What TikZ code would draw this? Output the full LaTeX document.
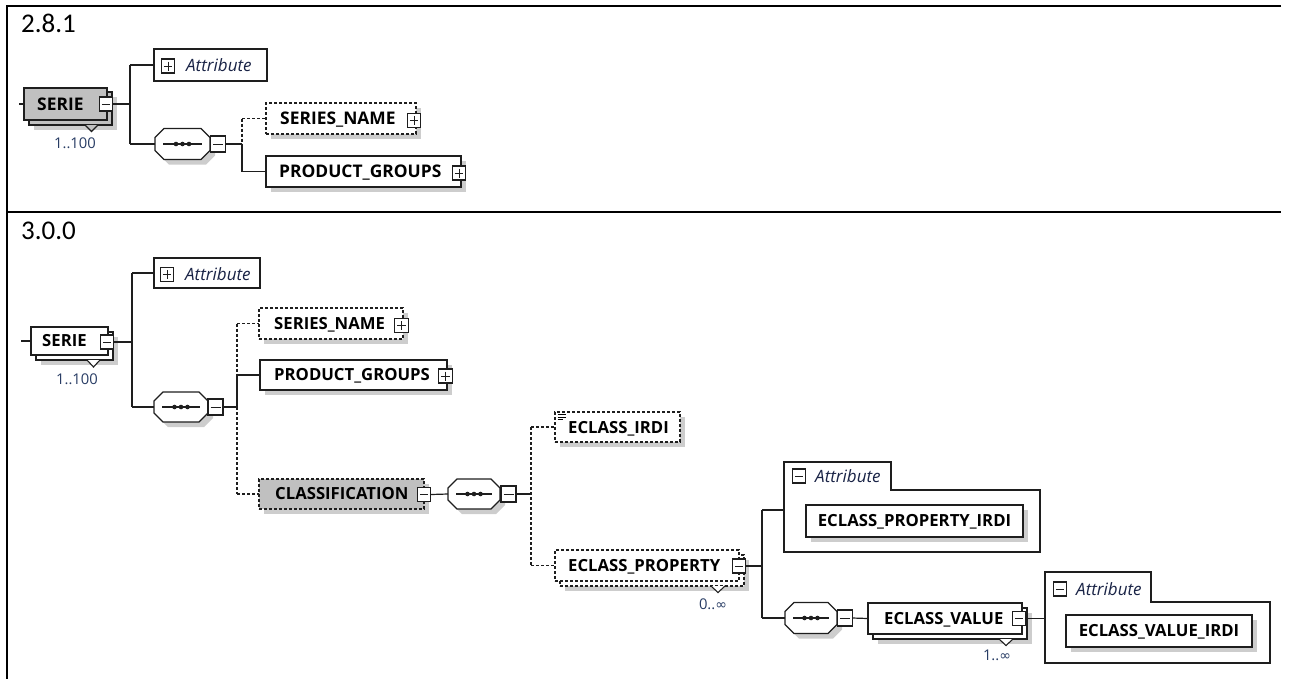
\documentclass[tikz,border=0pt]{standalone}
\usepackage{fontspec}
\setmainfont{Open Sans}
\newfontfamily\calib{Carlito}
\newfontfamily\symf{DejaVu Sans}
\usetikzlibrary{shadows}
\definecolor{shc}{RGB}{205,205,205}
\definecolor{boxgray}{RGB}{192,192,192}
\definecolor{navy}{RGB}{25,35,70}
\definecolor{occ}{RGB}{40,60,100}
\definecolor{ink}{RGB}{30,30,30}
\newcommand\octpath[1]{([xshift=9pt]#1.north west) -- ([xshift=-9pt]#1.north east) -- ([yshift=-9pt]#1.north east) -- ([yshift=9pt]#1.south east) -- ([xshift=-9pt]#1.south east) -- ([xshift=9pt]#1.south west) -- ([yshift=9pt]#1.south west) -- ([yshift=-9pt]#1.north west) -- cycle}
\newcommand\octdraw[1]{%
  \fill[shc, transform canvas={xshift=5pt,yshift=-5pt}] \octpath{#1};
  \draw[ink, line width=1.2pt, fill=white] \octpath{#1};
  \draw[ink, line width=1.1pt] ([xshift=8pt]#1.west) -- ([xshift=-8pt]#1.east);
  \fill[ink] ([xshift=-6.5pt]#1.center) circle (2.3pt) (#1.center) circle (2.3pt) ([xshift=6.5pt]#1.center) circle (2.3pt);}
\tikzset{
  conn/.style={line width=1.2pt, draw=ink},
  dconn/.style={conn, dash pattern=on 3pt off 2pt},
  ebox/.style={rectangle, draw=ink, line width=1.2pt, fill=white, inner sep=0pt, outer sep=0pt},
  dbox/.style={ebox, dash pattern=on 3pt off 2pt},
  shad/.style={drop shadow={shadow xshift=5pt, shadow yshift=-5pt, fill=shc, opacity=1}},
  seqn/.style={rectangle, inner sep=0pt, outer sep=0pt},
  grpn/.style={rectangle, inner sep=0pt, outer sep=0pt},
  xbox/.style={rectangle, draw=ink, line width=1.1pt, fill=white, inner sep=0pt, outer sep=0pt, minimum width=13.5pt, minimum height=14pt},
  xplus/.style={xbox, path picture={
     \draw[line width=1pt] ([xshift=2.5pt]path picture bounding box.west) -- ([xshift=-2.5pt]path picture bounding box.east);
     \draw[line width=1pt] ([yshift=-2.5pt]path picture bounding box.north) -- ([yshift=2.5pt]path picture bounding box.south);}},
  xminus/.style={xbox, path picture={
     \draw[line width=1pt] ([xshift=2.5pt]path picture bounding box.west) -- ([xshift=-2.5pt]path picture bounding box.east);}},
  qminus/.style={xminus, minimum width=15pt, minimum height=16pt},
  enameA/.style={font=\bfseries\fontsize{17.4}{20}\selectfont, inner sep=0pt, text height=12.4pt, text depth=0pt, anchor=west},
  enameB/.style={font=\bfseries\fontsize{16.7}{19}\selectfont, inner sep=0pt, text height=11.9pt, text depth=0pt, anchor=west},
  enameC/.style={font=\bfseries\fontsize{16.7}{19}\selectfont, inner sep=0pt, text height=11.9pt, text depth=0pt},
  attr/.style={font=\itshape\fontsize{17}{20}\selectfont, text=navy, inner sep=0pt, text height=12.1pt, text depth=0pt, anchor=west},
  card/.style={font=\fontsize{14.8}{17}\selectfont, text=occ, inner sep=0pt, text height=10.5pt, text depth=0pt},
  ver/.style={font=\calib\fontsize{27}{30}\selectfont, inner sep=0pt, text height=17pt, text depth=0pt, anchor=west},
  notch/.style={draw=ink, line width=1.1pt}
}
\begin{document}
\begin{tikzpicture}[x=1pt,y=-1pt]
\useasboundingbox (0,0) rectangle (1289,678);
% frame
\draw[line width=2.2pt] (1281,6) -- (7,6) -- (7,680);
\draw[line width=2.2pt] (7,212) -- (1281,212);
\node[ver] (v281) at (21,24) {2.8.1};
\node[ver] (v300) at (21,231) {3.0.0};

% ================= panel 1 =================
\node[ebox, fill=boxgray, shad, minimum width=83, minimum height=33] (s1b) at (70.5,108.5) {};
\draw[notch, fill=boxgray] (85,125) -- (91.5,131.5) -- (98,125);
\node[ebox, fill=boxgray, minimum width=83, minimum height=32] (s1) at (65.5,104) {};
\node[enameA] (s1t) at (37,104) {SERIE};
\node[xminus] (s1x) at (106,104) {};
\node[card] (s1c) at (75,143.5) {1..100};
\coordinate (s1in) at (19,104);
\draw[conn] (s1in) -- (s1.west);

\node[ebox, minimum width=113, minimum height=32] (a1) at (210.5,65) {};
\node[xplus] (a1x) at (168,66) {};
\node[attr] (a1t) at (186,65.5) {Attribute};

\node[seqn, minimum width=55, minimum height=31] (q1) at (182.5,144) {};
\octdraw{q1}
\node[qminus] (q1x) at (218,144) {};

\node[dbox, shad, minimum width=150, minimum height=31] (sn1) at (341,118.5) {};
\node[enameA] (sn1t) at (280,118.5) {SERIES\_NAME};
\node[xplus] (sn1x) at (414,120.5) {};

\node[ebox, shad, minimum width=195, minimum height=31] (pg1) at (363.5,171.5) {};
\node[enameA] (pg1t) at (279,171.5) {PRODUCT\_GROUPS};
\node[xplus] (pg1x) at (459,173) {};

\coordinate (t1) at (130,0);
\draw[conn] (s1x.east) -- (s1x.east -| t1);
\draw[conn] (a1.west -| t1) -- (q1.west -| t1);
\draw[conn] (a1.west -| t1) -- (a1.west);
\draw[conn] (q1.west -| t1) -- (q1.west);
\coordinate (v1) at (242,0);
\draw[conn] (q1x.east) -- (q1x.east -| v1);
\draw[dconn] (sn1.west -| v1) -- (q1x.east -| v1);
\draw[conn] (q1x.east -| v1) -- (pg1.west -| v1);
\draw[dconn] (sn1.west -| v1) -- (sn1.west);
\draw[conn] (pg1.west -| v1) -- (pg1.west);

% ================= panel 2 =================
\node[ebox, shad, minimum width=77, minimum height=28] (s2b) at (74.5,346) {};
\draw[notch, fill=white] (87,360) -- (93.5,367) -- (100,360);
\node[ebox, minimum width=77, minimum height=28] (s2) at (69.5,341) {};
\node[enameB] (s2t) at (42,341) {SERIE};
\node[xminus] (s2x) at (107,342) {};
\node[card] (s2c) at (77,379) {1..100};
\coordinate (s2in) at (21,341);
\draw[conn] (s2in) -- (s2.west);

\node[ebox, minimum width=106, minimum height=30] (a2) at (207,273) {};
\node[xplus] (a2x) at (167,274.5) {};
\node[attr] (a2t) at (185,274) {Attribute};

\node[seqn, minimum width=54, minimum height=30] (q2) at (181,407) {};
\octdraw{q2}
\node[qminus] (q2x) at (215.5,407) {};

\node[dbox, shad, minimum width=144, minimum height=31] (sn2) at (331,323.5) {};
\node[enameB] (sn2t) at (274,323.5) {SERIES\_NAME};
\node[xplus] (sn2x) at (401.5,325.5) {};

\node[ebox, shad, minimum width=187, minimum height=30] (pg2) at (353.5,375) {};
\node[enameB] (pg2t) at (274,375) {PRODUCT\_GROUPS};
\node[xplus] (pg2x) at (445.5,376) {};

\node[dbox, fill=boxgray, shad, minimum width=165, minimum height=30] (cls) at (341.5,494) {};
\node[enameB] (clst) at (275,494) {CLASSIFICATION};
\node[xminus] (clsx) at (424,494.5) {};

\coordinate (t2) at (132,0);
\draw[conn] (s2x.east) -- (s2x.east -| t2);
\draw[conn] (a2.west -| t2) -- (q2.west -| t2);
\draw[conn] (a2.west -| t2) -- (a2.west);
\draw[conn] (q2.west -| t2) -- (q2.west);
\coordinate (v2) at (237,0);
\draw[conn] (q2x.east) -- (q2x.east -| v2);
\draw[dconn] (sn2.west -| v2) -- (pg2.west -| v2);
\draw[conn] (pg2.west -| v2) -- (q2x.east -| v2);
\draw[dconn] (q2x.east -| v2) -- (cls.west -| v2);
\draw[dconn] (sn2.west -| v2) -- (sn2.west);
\draw[conn] (pg2.west -| v2) -- (pg2.west);
\draw[dconn] (cls.west -| v2) -- (cls.west);

\node[seqn, minimum width=52, minimum height=30] (q3) at (474,494) {};
\octdraw{q3}
\node[qminus] (q3x) at (508.5,494) {};

\node[dbox, shad, minimum width=125, minimum height=30] (ei) at (617.5,427) {};
\draw[line width=0.8pt] (557.5,414.5) -- (565.5,414.5) (557.5,417) -- (565.5,417) (557.5,419.5) -- (563,419.5);
\node[enameB] (eit) at (568,427.5) {ECLASS\_IRDI};

\node[dbox, shad, minimum width=184, minimum height=31] (epb) at (652,570.5) {};
\draw[notch, fill=white] (711,586) -- (718,592.5) -- (725,586);
\node[dbox, minimum width=184, minimum height=31] (ep) at (647,565.5) {};
\node[enameB] (ept) at (568,566) {ECLASS\_PROPERTY};
\node[xminus] (epx) at (739,566) {};
\node[card] (epc) at (713,604) {0..{\symf\fontsize{14}{16}\selectfont ∞}};

\coordinate (v3) at (531,0);
\draw[conn] (q3x.east) -- (q3x.east -| v3);
\draw[dconn] (ei.west -| v3) -- (ep.west -| v3);
\draw[dconn] (ei.west -| v3) -- (ei.west);
\draw[dconn] (ep.west -| v3) -- (ep.west);
\draw[conn] (clsx.east) -- (q3.west);

% attribute group 1
\node[grpn, minimum width=256, minimum height=90] (g1) at (912,507) {};
\draw[ebox] (g1.north west) -- ++(107,0) -- ++(0,28) -- ([yshift=-28pt]g1.north east) -- (g1.south east) -- (g1.south west) -- cycle;
\node[xminus] (g1x) at (799,476) {};
\node[attr] (g1t) at (815,476) {Attribute};
\node[ebox, shad, minimum width=217, minimum height=32] (epi) at (914.5,521) {};
\node[enameC] (epit) at (epi.center) {ECLASS\_PROPERTY\_IRDI};

% sequence 4
\node[seqn, minimum width=52, minimum height=31] (q4) at (811,618) {};
\octdraw{q4}
\node[qminus] (q4x) at (845,618) {};

\node[ebox, shad, minimum width=154, minimum height=31] (evb) at (950,623.5) {};
\draw[notch, fill=white] (999,639) -- (1006,645.5) -- (1013,639);
\node[ebox, minimum width=154, minimum height=31] (ev) at (945,618.5) {};
\node[enameB] (evt) at (884,618.5) {ECLASS\_VALUE};
\node[xminus] (evx) at (1019,618.5) {};
\node[card] (evc) at (997,655) {1..{\symf\fontsize{14}{16}\selectfont ∞}};

% attribute group 2
\node[grpn, minimum width=225, minimum height=91] (g2) at (1157.5,617.5) {};
\draw[ebox] (g2.north west) -- ++(106,0) -- ++(0,30) -- ([yshift=-30pt]g2.north east) -- (g2.south east) -- (g2.south west) -- cycle;
\node[xminus] (g2x) at (1060,589) {};
\node[attr] (g2t) at (1076,589) {Attribute};
\node[ebox, shad, minimum width=186, minimum height=32] (evi) at (1159,631) {};
\node[enameC] (evit) at (evi.center) {ECLASS\_VALUE\_IRDI};

\coordinate (t3) at (762,0);
\draw[conn] (epx.east) -- (epx.east -| t3);
\draw[conn] ([yshift=-3pt]g1.west -| t3) -- (q4.west -| t3);
\draw[conn] ([yshift=-3pt]g1.west -| t3) -- ([yshift=-3pt]g1.west);
\draw[conn] (q4.west -| t3) -- (q4.west);
\draw[conn] (q4x.east) -- (ev.west);
\draw[conn] (evx.east) -- (evx.east -| g2.west);
\end{tikzpicture}
\end{document}
